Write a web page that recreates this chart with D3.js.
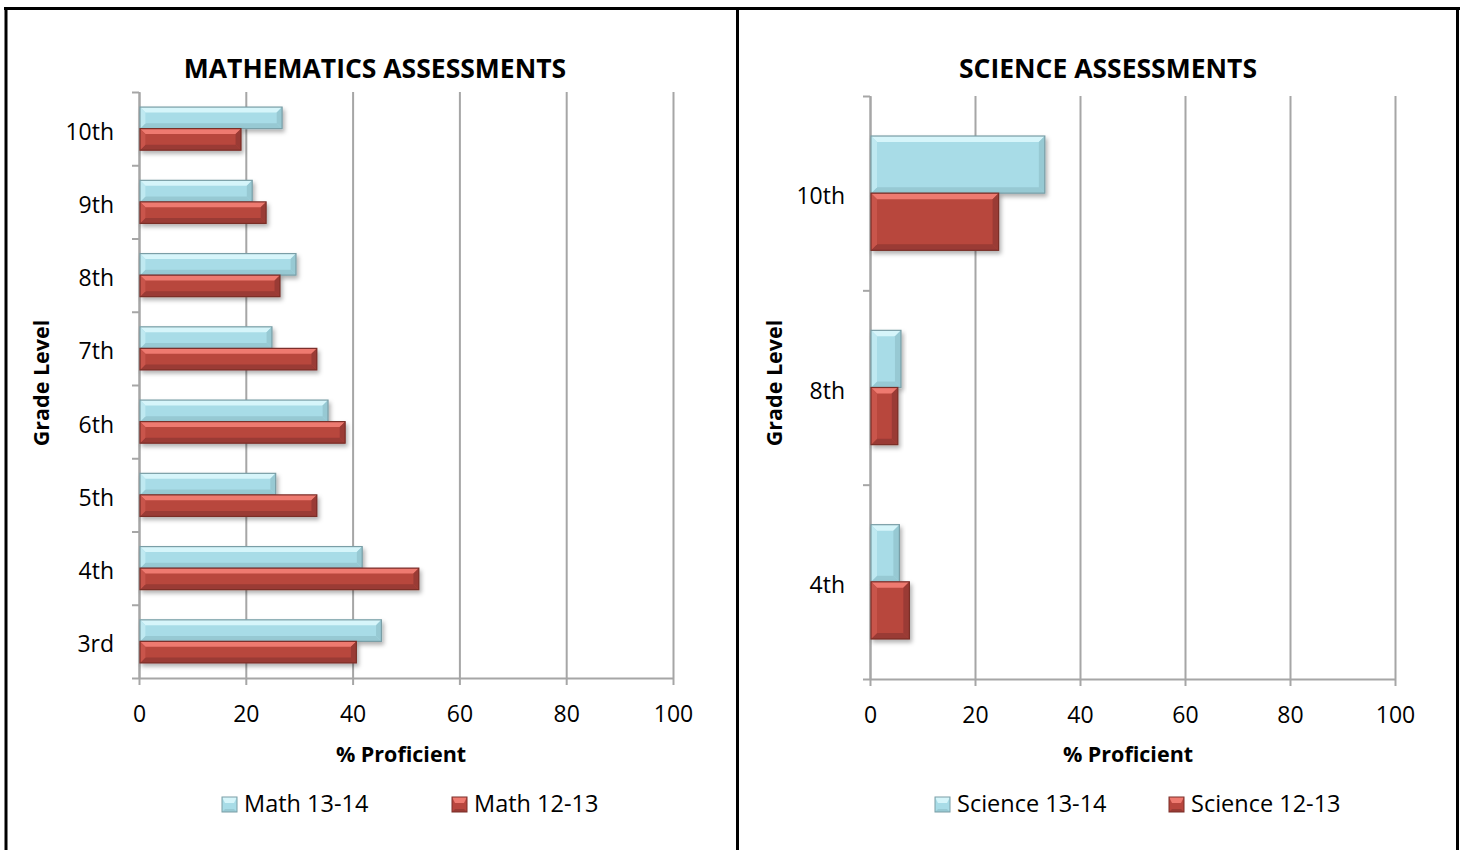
<!DOCTYPE html>
<html>
<head>
<meta charset="utf-8">
<script src="https://cdn.jsdelivr.net/npm/d3@7"></script>
<style>
  body { margin: 0; background: #fff; }
  text { font-family: "Open Sans", sans-serif; fill: #000; }
</style>
</head>
<body>
<div id="chart"></div>
<script>
// data
var mathGrades = ["3rd", "4th", "5th", "6th", "7th", "8th", "9th", "10th"];
var math1314 = [45.4, 41.8, 25.6, 35.4, 24.9, 29.4, 21.2, 26.8];
var math1213 = [40.7, 52.4, 33.3, 38.6, 33.3, 26.4, 23.8, 19.1];
var sciGrades = ["4th", "8th", "10th"];
var sci1314 = [5.6, 5.9, 33.3];
var sci1213 = [7.5, 5.3, 24.5];
var xTicks = [0, 20, 40, 60, 80, 100];

var blue = {main: "#a8dce7", light: "#d6f5fa", side: "#bfe9f1", dark: "#97c9d3", stroke: "#7a9ea6"};
var red = {main: "#b8463e", light: "#ee7a70", side: "#c9554c", dark: "#9a3b34", stroke: "#7a2e28"};

var svg = d3.select("#chart").append("svg")
    .attr("width", 1464)
    .attr("height", 850);

var defs = svg.append("defs");
var shadow = defs.append("filter").attr("id", "shadow")
    .attr("x", "-10%").attr("y", "-20%").attr("width", "130%").attr("height", "160%");
shadow.append("feDropShadow")
    .attr("dx", 2).attr("dy", 3).attr("stdDeviation", 2)
    .attr("flood-color", "#000").attr("flood-opacity", 0.3);

// outer frame
var frame = svg.append("g").attr("stroke", "#000").attr("stroke-width", 3);
frame.append("line").attr("x1", 4).attr("x2", 1460).attr("y1", 8.5).attr("y2", 8.5);
frame.append("line").attr("x1", 6).attr("x2", 6).attr("y1", 7).attr("y2", 850);
frame.append("line").attr("x1", 737.5).attr("x2", 737.5).attr("y1", 7).attr("y2", 850);
frame.append("line").attr("x1", 1457.5).attr("x2", 1457.5).attr("y1", 7).attr("y2", 850);

// bar with a bevelled look
function bevelBar(g, x0, y0, w, h, c) {
  var b = Math.min(6, h / 4, w / 2);
  var bar = g.append("g").attr("filter", "url(#shadow)");
  bar.append("rect").attr("x", x0).attr("y", y0).attr("width", w).attr("height", h)
      .attr("fill", c.main);
  var polys = [
    [[x0, y0], [x0 + w, y0], [x0 + w - b, y0 + b], [x0 + b, y0 + b], c.light],
    [[x0, y0 + h], [x0 + w, y0 + h], [x0 + w - b, y0 + h - b], [x0 + b, y0 + h - b], c.dark],
    [[x0 + w, y0], [x0 + w, y0 + h], [x0 + w - b, y0 + h - b], [x0 + w - b, y0 + b], c.dark],
    [[x0, y0], [x0, y0 + h], [x0 + b, y0 + h - b], [x0 + b, y0 + b], c.side]
  ];
  polys.forEach(function(p) {
    bar.append("polygon")
        .attr("points", p.slice(0, 4).map(function(q) { return q.join(","); }).join(" "))
        .attr("fill", p[4]);
  });
  bar.append("rect").attr("x", x0).attr("y", y0).attr("width", w).attr("height", h)
      .attr("fill", "none").attr("stroke", c.stroke).attr("stroke-width", 1.2);
}

function drawPanel(p) {
  var g = svg.append("g");
  var bottom = p.yRange[0], top = p.yRange[1];

  var x = d3.scaleLinear().domain([0, 100]).range(p.xRange);
  var y = d3.scaleBand().domain(p.grades).range(p.yRange);
  var yEdge = d3.scaleLinear().domain([0, p.grades.length]).range(p.yRange);

  // vertical gridlines
  g.append("g")
      .attr("transform", "translate(0," + bottom + ")")
      .call(d3.axisBottom(x).tickValues(xTicks).tickSize(-(bottom - top)).tickFormat(""))
      .call(function(a) { a.select(".domain").remove(); })
      .selectAll("line").attr("stroke", "#a6a6a6").attr("stroke-width", 2);

  // x axis
  var xa = g.append("g")
      .attr("transform", "translate(0," + bottom + ")")
      .call(d3.axisBottom(x).tickValues(xTicks).tickSizeInner(7).tickSizeOuter(0).tickPadding(21));
  xa.select(".domain").attr("stroke", "#a6a6a6").attr("stroke-width", 2);
  xa.selectAll("line").attr("stroke", "#a6a6a6").attr("stroke-width", 2);
  xa.selectAll("text").style("font-family", "Open Sans").style("font-size", "23px").attr("fill", "#000");

  // y axis line and boundary ticks
  var ya = g.append("g")
      .attr("transform", "translate(" + p.xRange[0] + ",0)")
      .call(d3.axisLeft(yEdge).tickValues(d3.range(p.grades.length + 1)).tickSizeInner(7).tickSizeOuter(0).tickFormat(""));
  ya.select(".domain").attr("stroke", "#a6a6a6").attr("stroke-width", 2);
  ya.selectAll("line").attr("stroke", "#a6a6a6").attr("stroke-width", 2);

  // grade labels
  var yl = g.append("g")
      .attr("transform", "translate(" + p.xRange[0] + ",0)")
      .call(d3.axisLeft(y).tickSize(0).tickPadding(25));
  yl.select(".domain").remove();
  yl.selectAll("text").style("font-family", "Open Sans").style("font-size", "23px")
      .attr("fill", "#000").attr("dy", "0.48em");

  // bars: newer year on top, older below
  var group = y.bandwidth() / 1.7;
  var inner = d3.scaleBand().domain([0, 1]).range([0, group]);
  p.grades.forEach(function(gr, i) {
    var y0 = y(gr) + (y.bandwidth() - group) / 2;
    bevelBar(g, x(0) + 1, y0 + inner(0), x(p.s1[i]) - x(0) - 1, inner.bandwidth(), blue);
    bevelBar(g, x(0) + 1, y0 + inner(1), x(p.s2[i]) - x(0) - 1, inner.bandwidth(), red);
  });

  // titles
  g.append("text").attr("x", p.titleX).attr("y", 78)
      .attr("text-anchor", "middle").style("font-size", "26.5px").style("font-weight", "bold")
      .text(p.title);
  g.append("text").attr("x", p.axisTitleX).attr("y", 762)
      .attr("text-anchor", "middle").style("font-size", "21.5px").style("font-weight", "bold")
      .text("% Proficient");
  g.append("text")
      .attr("transform", "translate(" + p.gradeTitleX + ",383) rotate(-90)")
      .attr("text-anchor", "middle").style("font-size", "21.5px").style("font-weight", "bold")
      .text("Grade Level");

  // legend
  p.legend.forEach(function(l, i) {
    var c = i === 0 ? blue : red;
    var sx = l.x, sy = 797;
    var sw = 15, b = 3;
    var lg = g.append("g");
    lg.append("rect").attr("x", sx).attr("y", sy).attr("width", sw).attr("height", sw).attr("fill", c.main);
    lg.append("polygon").attr("points", [[sx, sy], [sx + sw, sy], [sx + sw - b, sy + b + 3], [sx + b, sy + b + 3]].join(" "))
        .attr("fill", c.light);
    lg.append("polygon").attr("points", [[sx, sy + sw], [sx + sw, sy + sw], [sx + sw - b, sy + sw - b], [sx + b, sy + sw - b]].join(" "))
        .attr("fill", c.dark);
    lg.append("rect").attr("x", sx).attr("y", sy).attr("width", sw).attr("height", sw)
        .attr("fill", "none").attr("stroke", c.stroke).attr("stroke-width", 1);
    lg.append("text").attr("x", sx + sw + 7).attr("y", 812)
        .style("font-size", "23.5px").text(l.name);
  });
}

drawPanel({
  title: "MATHEMATICS ASSESSMENTS",
  grades: mathGrades, s1: math1314, s2: math1213,
  xRange: [139, 673], yRange: [678, 92],
  titleX: 375, axisTitleX: 401, gradeTitleX: 49,
  legend: [{x: 222, name: "Math 13-14"}, {x: 452, name: "Math 12-13"}]
});

drawPanel({
  title: "SCIENCE ASSESSMENTS",
  grades: sciGrades, s1: sci1314, s2: sci1213,
  xRange: [870, 1395], yRange: [679, 96],
  titleX: 1108, axisTitleX: 1128, gradeTitleX: 782,
  legend: [{x: 935, name: "Science 13-14"}, {x: 1169, name: "Science 12-13"}]
});
</script>
</body>
</html>
